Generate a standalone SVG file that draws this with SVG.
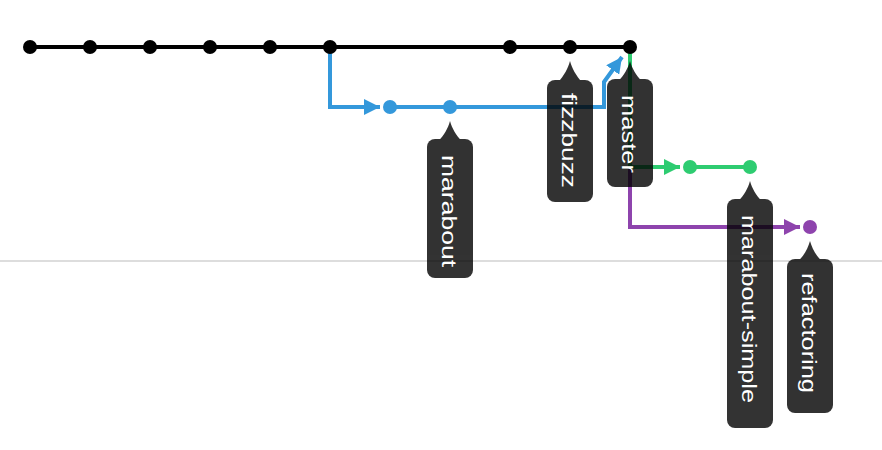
<svg xmlns="http://www.w3.org/2000/svg" width="882" height="450" viewBox="0 0 882 450">
<style>
.ln{fill:none;stroke-width:4;stroke-linejoin:miter}
.tag{fill:#000}
.tt{fill:#fff;font-family:"Liberation Sans",Arial,sans-serif;font-size:21px}
</style>
<defs>
<marker id="ab" viewBox="0 0 10 10" refX="10" refY="5" markerWidth="4" markerHeight="4" orient="auto" markerUnits="strokeWidth"><path d="M0,0 L10,5 L0,10 z" fill="#3498db"/></marker>
<marker id="ag" viewBox="0 0 10 10" refX="10" refY="5" markerWidth="4" markerHeight="4" orient="auto" markerUnits="strokeWidth"><path d="M0,0 L10,5 L0,10 z" fill="#2ecc71"/></marker>
<marker id="ap" viewBox="0 0 10 10" refX="10" refY="5" markerWidth="4" markerHeight="4" orient="auto" markerUnits="strokeWidth"><path d="M0,0 L10,5 L0,10 z" fill="#8e44ad"/></marker>
</defs>
<rect width="882" height="450" fill="#fff"/>
<line x1="0" y1="261" x2="882" y2="261" stroke="#dddddd" stroke-width="2"/>
<g id="connectors">
<path class="ln" stroke="#000" d="M30,47 H630"/>
<path class="ln" stroke="#3498db" d="M330,47 V107 H380" marker-end="url(#ab)"/>
<path class="ln" stroke="#3498db" d="M390,107 H604 V82 L622,57" marker-end="url(#ab)"/>
<path class="ln" stroke="#8e44ad" d="M630,167 V227 H800" marker-end="url(#ap)"/>
<path class="ln" stroke="#2ecc71" d="M630,50 V167 H680" marker-end="url(#ag)"/>
<path class="ln" stroke="#2ecc71" d="M690,167 H750"/>
</g>
<g id="commits-master" fill="#000">
<circle cx="30" cy="47" r="7"/><circle cx="90" cy="47" r="7"/><circle cx="150" cy="47" r="7"/>
<circle cx="210" cy="47" r="7"/><circle cx="270" cy="47" r="7"/><circle cx="330" cy="47" r="7"/>
<circle cx="510" cy="47" r="7"/><circle cx="570" cy="47" r="7"/><circle cx="630" cy="47" r="7"/>
</g>
<g id="commits-marabout" fill="#3498db"><circle cx="390" cy="107" r="7"/><circle cx="450" cy="107" r="7"/></g>
<g id="commits-marabout-simple" fill="#2ecc71"><circle cx="690" cy="167" r="7"/><circle cx="750" cy="167" r="7"/></g>
<g id="commits-refactoring" fill="#8e44ad"><circle cx="810" cy="227" r="7"/></g>
<g id="tag-marabout">
<g opacity="0.8" class="tag"><path d="M450,121 C452,128 456,136 462,141 H438 C444,136 448,128 450,121 Z"/><rect x="427" y="139" width="46" height="139" rx="8"/></g>
<text class="tt" transform="translate(442,155) rotate(90)" textLength="112" lengthAdjust="spacingAndGlyphs">marabout</text>
</g>
<g id="tag-fizzbuzz">
<g opacity="0.8" class="tag"><path d="M570,61 C572,68 576,76 582,82 H558 C564,76 568,68 570,61 Z"/><rect x="547" y="80" width="46" height="122" rx="8"/></g>
<text class="tt" transform="translate(562,93) rotate(90)" textLength="95" lengthAdjust="spacingAndGlyphs">fizzbuzz</text>
</g>
<g id="tag-master">
<g opacity="0.8" class="tag"><path d="M630,61 C632,68 636,76 642,81 H618 C624,76 628,68 630,61 Z"/><rect x="607" y="79" width="46" height="108" rx="8"/></g>
<text class="tt" transform="translate(622,95) rotate(90)" textLength="78" lengthAdjust="spacingAndGlyphs">master</text>
</g>
<g id="tag-marabout-simple">
<g opacity="0.8" class="tag"><path d="M750,181 C752,188 756,196 762,201 H738 C744,196 748,188 750,181 Z"/><rect x="727" y="199" width="46" height="229" rx="8"/></g>
<text class="tt" transform="translate(742,215) rotate(90)" textLength="188" lengthAdjust="spacingAndGlyphs">marabout-simple</text>
</g>
<g id="tag-refactoring">
<g opacity="0.8" class="tag"><path d="M810,241 C812,248 816,256 822,261 H798 C804,256 808,248 810,241 Z"/><rect x="787" y="259" width="46" height="154" rx="8"/></g>
<text class="tt" transform="translate(802,273) rotate(90)" textLength="120" lengthAdjust="spacingAndGlyphs">refactoring</text>
</g>
</svg>
